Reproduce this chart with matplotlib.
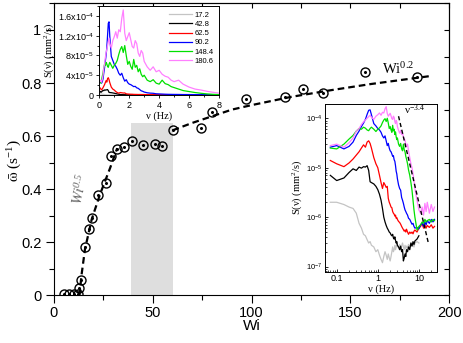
import numpy as np
import matplotlib
matplotlib.use("Agg")
import matplotlib.pyplot as plt
from matplotlib.ticker import MultipleLocator, FixedLocator, FixedFormatter, LogLocator, NullFormatter

plt.rcParams["font.family"] = ["Liberation Sans", "DejaVu Sans"]
plt.rcParams["mathtext.fontset"] = "stix"

# main panel: mean rotation rate vs Weissenberg number
wi = [5.1, 7.6, 10.2, 12.3, 12.8, 13.7, 15.5, 17.9, 19.2, 22.1, 26.3, 28.9, 31.7,
      35.3, 39.6, 45.2, 51.0, 54.7, 60.2, 74.4, 80.0, 97.2, 117.1, 125.9, 136.4,
      157.6, 183.9]
omega = [0.004, 0.004, 0.004, 0.004, 0.028, 0.06, 0.181, 0.252, 0.290, 0.380, 0.425,
         0.527, 0.553, 0.561, 0.581, 0.567, 0.571, 0.562, 0.624, 0.631, 0.691, 0.740,
         0.749, 0.778, 0.762, 0.840, 0.823]

# dashed guides
fit_low_wi = [12.9, 13.9, 15.7, 19.1, 23.3, 28.4, 32.0]
fit_low_omega = [0.0, 0.075, 0.175, 0.287, 0.381, 0.48, 0.555]
fit_high_wi = [60, 70, 80, 90, 100, 120, 140, 160, 190]
fit_high_omega = [0.622, 0.650, 0.675, 0.700, 0.717, 0.748, 0.773, 0.796, 0.826]

shade_wi = [39, 60]
shade_top = 0.65

# spectra S(nu), units of 1e-6 mm^2/s
freq = [0.07, 0.1, 0.15, 0.2, 0.25, 0.3, 0.35, 0.4, 0.45, 0.5,
        0.55, 0.6, 0.65, 0.7, 0.8, 0.9, 1.0,
        1.1, 1.2, 1.3, 1.4, 1.5, 1.6, 1.7, 1.8, 1.9, 2.0,
        2.1, 2.2, 2.3, 2.4, 2.5, 2.6, 2.7, 2.8, 2.9, 3.0,
        3.2, 3.4, 3.6, 3.8, 4.0, 4.2, 4.4, 4.6, 4.8, 5.0,
        5.3, 5.6, 6.0, 6.4, 6.8, 7.2, 7.6, 8.0,
        9, 10, 11, 12, 13, 14, 15, 16, 18, 20, 22, 24]
nan = np.nan
s_172 = [2.0, 2.0, 1.8, 1.6, 1.5, 1.2, 0.75, 0.6, 0.45, 0.42,
         0.35, 0.3, 0.32, 0.27, 0.25, 0.2, 0.22,
         0.17, 0.14, 0.12, 0.16, 0.2, 0.17, 0.14, 0.18, 0.15, 0.13,
         0.16, 0.2, 0.25, 0.2, 0.22, 0.27, 0.22, 0.25, 0.3, 0.26,
         0.24, 0.28, 0.22, 0.26, 0.3, 0.25, 0.22, 0.27, 0.23, 0.26,
         0.24, 0.28, 0.25, 0.3, 0.26, 0.28, 0.25, 0.3,
         0.32, 0.3, nan, nan, nan, nan, nan, nan, nan, nan, nan, nan]
s_428 = [7.0, 5.5, 6.2, 8.0, 9.5, 8.8, 10.3, 9.8, 10.5, 10.3,
         11.0, 8.8, 5.2, 5.0, 4.7, 4.2, 3.6,
         2.9, 2.2, 1.5, 1.0, 0.8, 0.68, 0.6, 0.55, 0.5, 0.48,
         0.44, 0.42, 0.45, 0.38, 0.36, 0.4, 0.34, 0.3, 0.32, 0.27,
         0.25, 0.22, 0.26, 0.2, 0.22, 0.13, 0.15, 0.18, 0.16, 0.22,
         0.2, 0.25, 0.22, 0.3, 0.26, 0.32, 0.28, 0.33,
         0.36, 0.42, nan, nan, nan, nan, nan, nan, nan, nan, nan, nan]
s_625 = [14, 12, 10.5, 12.5, 15, 18, 21, 25, 29, 26,
         33, 35, 31, 25, 16, 12, 10,
         7.0, 5.0, 3.8, 5.0, 4.5, 4.0, 4.2, 2.4, 2.0, 1.8,
         1.6, 1.55, 1.3, 1.2, 1.15, 1.05, 1.1, 0.95, 0.98, 0.9,
         0.82, 0.78, 0.72, 0.65, 0.6, 0.56, 0.52, 0.55, 0.5, 0.57,
         0.5, 0.45, 0.5, 0.47, 0.5, 0.46, 0.52, 0.55,
         0.5, 0.6, 0.65, 0.75, 0.6, 0.7, 0.6, 0.68, 0.62, 0.7, 0.6, 0.65]
s_902 = [26, 28, 24, 27, 33, 45, 55, 68, 80, 95,
         120, 145, 148, 118, 78, 70, 62,
         58, 52, 44, 40, 44, 35, 28, 31, 25, 22,
         21, 19, 17, 17.5, 14.5, 13.5, 11, 8.5, 7.5, 6.0,
         4.5, 3.8, 3.5, 2.5, 2.2, 1.9, 1.6, 1.4, 1.3, 1.2,
         1.1, 0.95, 0.9, 0.8, 0.72, 0.75, 0.65, 0.6,
         0.62, 0.58, 0.7, 0.75, 0.65, 0.8, 0.7, 0.85, 0.75, 0.9, 0.8, 0.9]
s_1484 = [25, 24, 30, 38, 45, 55, 62, 60, 66, 63,
          58, 56, 62, 66, 60, 54, 60,
          64, 70, 82, 92, 98, 86, 100, 80, 62, 68,
          58, 52, 72, 56, 60, 47, 53, 42, 37, 40,
          30, 27, 31, 24, 22, 30, 23, 21, 17, 15,
          12, 9, 7, 5, 3.5, 2.2, 1.4, 1.0,
          0.55, 0.65, 0.7, 0.8, 0.75, 0.9, 0.8, 0.85, 0.9, 0.8, 0.9, 0.85]
s_1806 = [28, 30, 26, 32, 40, 55, 62, 75, 85, 92,
          100, 108, 115, 105, 95, 110, 118,
          128, 115, 132, 128, 155, 172, 125, 110, 118, 126,
          112, 98, 95, 110, 104, 85, 78, 90, 85, 68,
          57, 50, 57, 47, 50, 42, 38, 36, 30, 27,
          30, 22, 16, 12, 10, 7.5, 5.5, 3.8,
          2.2, 1.4, 1.2, 1.6, 1.1, 1.9, 1.3, 2.0, 1.2, 1.8, 1.3, 1.6]

spec_labels = ["17.2", "42.8", "62.5", "90.2", "148.4", "180.6"]
spec_colors = ["#c4c4c4", "black", "red", "blue", "#00e000", "#ff80ff"]
spectra = [s_172, s_428, s_625, s_902, s_1484, s_1806]

slope_freq = [3.2, 17.0]
slope_s = [1.1e-4, 3.0e-7]

lin_yticks = [0, 4e-5, 8e-5, 1.2e-4, 1.6e-4]
lin_yticklabels = ["0", r"4x10$\mathregular{^{-5}}$", r"8x10$\mathregular{^{-5}}$",
                   r"1.2x10$\mathregular{^{-4}}$", r"1.6x10$\mathregular{^{-4}}$"]

serif = ["Liberation Serif", "DejaVu Serif"]

fig = plt.figure(figsize=(4.63, 3.43), dpi=100)
ax = fig.add_axes([0.1166, 0.1385, 0.8534, 0.8515])

ax.fill_between(shade_wi, 0, shade_top, color="#dedede", lw=0, zorder=0)
ax.plot(fit_low_wi, fit_low_omega, ls=(0, (3, 1.8)), color="black", lw=1.6, zorder=2)
ax.plot(fit_high_wi, fit_high_omega, ls=(0, (3, 1.8)), color="black", lw=1.6, zorder=2)
ax.plot(wi, omega, "o", ms=6.5, mfc="none", mec="black", mew=1.0, zorder=3)
ax.plot(wi, omega, "o", ms=1.2, color="black", zorder=3)

ax.set_xlim(0, 200)
ax.set_ylim(0, 1.1)
ax.xaxis.set_major_locator(MultipleLocator(50))
ax.xaxis.set_minor_locator(MultipleLocator(25))
ax.yaxis.set_major_locator(FixedLocator([0, 0.2, 0.4, 0.6, 0.8, 1.0]))
ax.yaxis.set_major_formatter(FixedFormatter(["0", "0.2", "0.4", "0.6", "0.8", "1"]))
ax.yaxis.set_minor_locator(MultipleLocator(0.1))
ax.tick_params(which="major", direction="out", length=5.5, width=0.8, labelsize=10.5)
ax.tick_params(axis="x", which="major", pad=2)
ax.tick_params(which="minor", direction="out", length=3.5, width=0.8)

top = ax.secondary_xaxis("top")
top.xaxis.set_major_locator(MultipleLocator(25))
top.tick_params(direction="in", length=3.5, width=0.8, labeltop=False)
right = ax.secondary_yaxis("right")
right.yaxis.set_major_locator(MultipleLocator(0.1))
right.tick_params(direction="in", length=3.5, width=0.8, labelright=False)

ax.set_xlabel("Wi", fontsize=11, labelpad=-1)
ax.set_ylabel(r"$\bar{\mathrm{\omega}}$ (s$\mathregular{^{-1}}$)", family=serif, fontsize=11)
ax.yaxis.set_label_coords(-0.075, 0.46)

ax.text(166, 0.835, r"Wi$\mathregular{^{0.2}}$", family=serif, fontsize=10.5)
ax.text(13.6, 0.40, r"Wi$\mathregular{^{0.5}}$", family=serif, style="italic",
        fontsize=10.5, color="#666666", rotation=78, ha="center", va="center")

# linear inset
ax1 = fig.add_axes([0.2145, 0.7230, 0.2585, 0.2595])
for s, c, lab in zip(spectra, spec_colors, spec_labels):
    ax1.plot(freq, np.array(s) * 1e-6, color=c, lw=0.9, label=lab)
ax1.set_xlim(0, 8)
ax1.set_ylim(0, 1.8e-4)
ax1.xaxis.set_major_locator(MultipleLocator(2))
ax1.xaxis.set_minor_locator(MultipleLocator(1))
ax1.yaxis.set_major_locator(FixedLocator(lin_yticks))
ax1.yaxis.set_major_formatter(FixedFormatter(lin_yticklabels))
ax1.yaxis.set_minor_locator(MultipleLocator(2e-5))
ax1.tick_params(which="major", direction="out", length=2.5, width=0.6, labelsize=6.5, pad=1.5)
ax1.tick_params(which="minor", direction="out", length=1.5, width=0.6)
ax1.set_xlabel("ν (Hz)", family=serif, fontsize=7.5, labelpad=1)
ax1.set_ylabel(r"S(ν) (mm$\mathregular{^2}$/s)", family=serif, fontsize=7.5, labelpad=1)
ax1.legend(loc="upper right", frameon=False, fontsize=5.5, handlelength=3.0,
           labelspacing=0.25, borderaxespad=0.3, handletextpad=0.3)
for sp in ax1.spines.values():
    sp.set_linewidth(0.7)

# log-log inset
ax2 = fig.add_axes([0.702, 0.208, 0.241, 0.489])
for s, c in zip(spectra, spec_colors):
    ax2.plot(freq, np.array(s) * 1e-6, color=c, lw=0.9)
ax2.plot(slope_freq, slope_s, ls=(0, (3, 2)), color="black", lw=1.0)
ax2.set_xscale("log")
ax2.set_yscale("log")
ax2.set_xlim(0.052, 27)
ax2.set_ylim(7.9e-8, 1.95e-4)
ax2.set_xticks([0.1, 1, 10])
ax2.set_xticklabels(["0.1", "1", "10"])
ax2.set_yticks([1e-7, 1e-6, 1e-5, 1e-4])
ax2.set_yticklabels([r"10$\mathregular{^{-7}}$", r"10$\mathregular{^{-6}}$",
                     r"10$\mathregular{^{-5}}$", r"10$\mathregular{^{-4}}$"])
ax2.xaxis.set_minor_locator(LogLocator(base=10, subs=np.arange(2, 10)))
ax2.xaxis.set_minor_formatter(NullFormatter())
ax2.yaxis.set_minor_locator(LogLocator(base=10, subs=np.arange(2, 10)))
ax2.yaxis.set_minor_formatter(NullFormatter())
ax2.tick_params(which="major", direction="in", length=2.5, width=0.6, labelsize=6.5, pad=2)
ax2.tick_params(which="minor", direction="in", length=1.5, width=0.5)
ax2.tick_params(axis="y", which="major", labelsize=5.5)
ax2.set_xlabel("ν (Hz)", family=serif, fontsize=7.5, labelpad=1)
ax2.set_ylabel(r"S(ν) (mm$\mathregular{^2}$/s)", family=serif, fontsize=7.5, labelpad=1)
ax2.text(4.3, 1.25e-4, r"ν$\mathregular{^{-3.4}}$", family=serif, fontsize=8)
for sp in ax2.spines.values():
    sp.set_linewidth(0.7)

fig.savefig("out.png", dpi=100)
